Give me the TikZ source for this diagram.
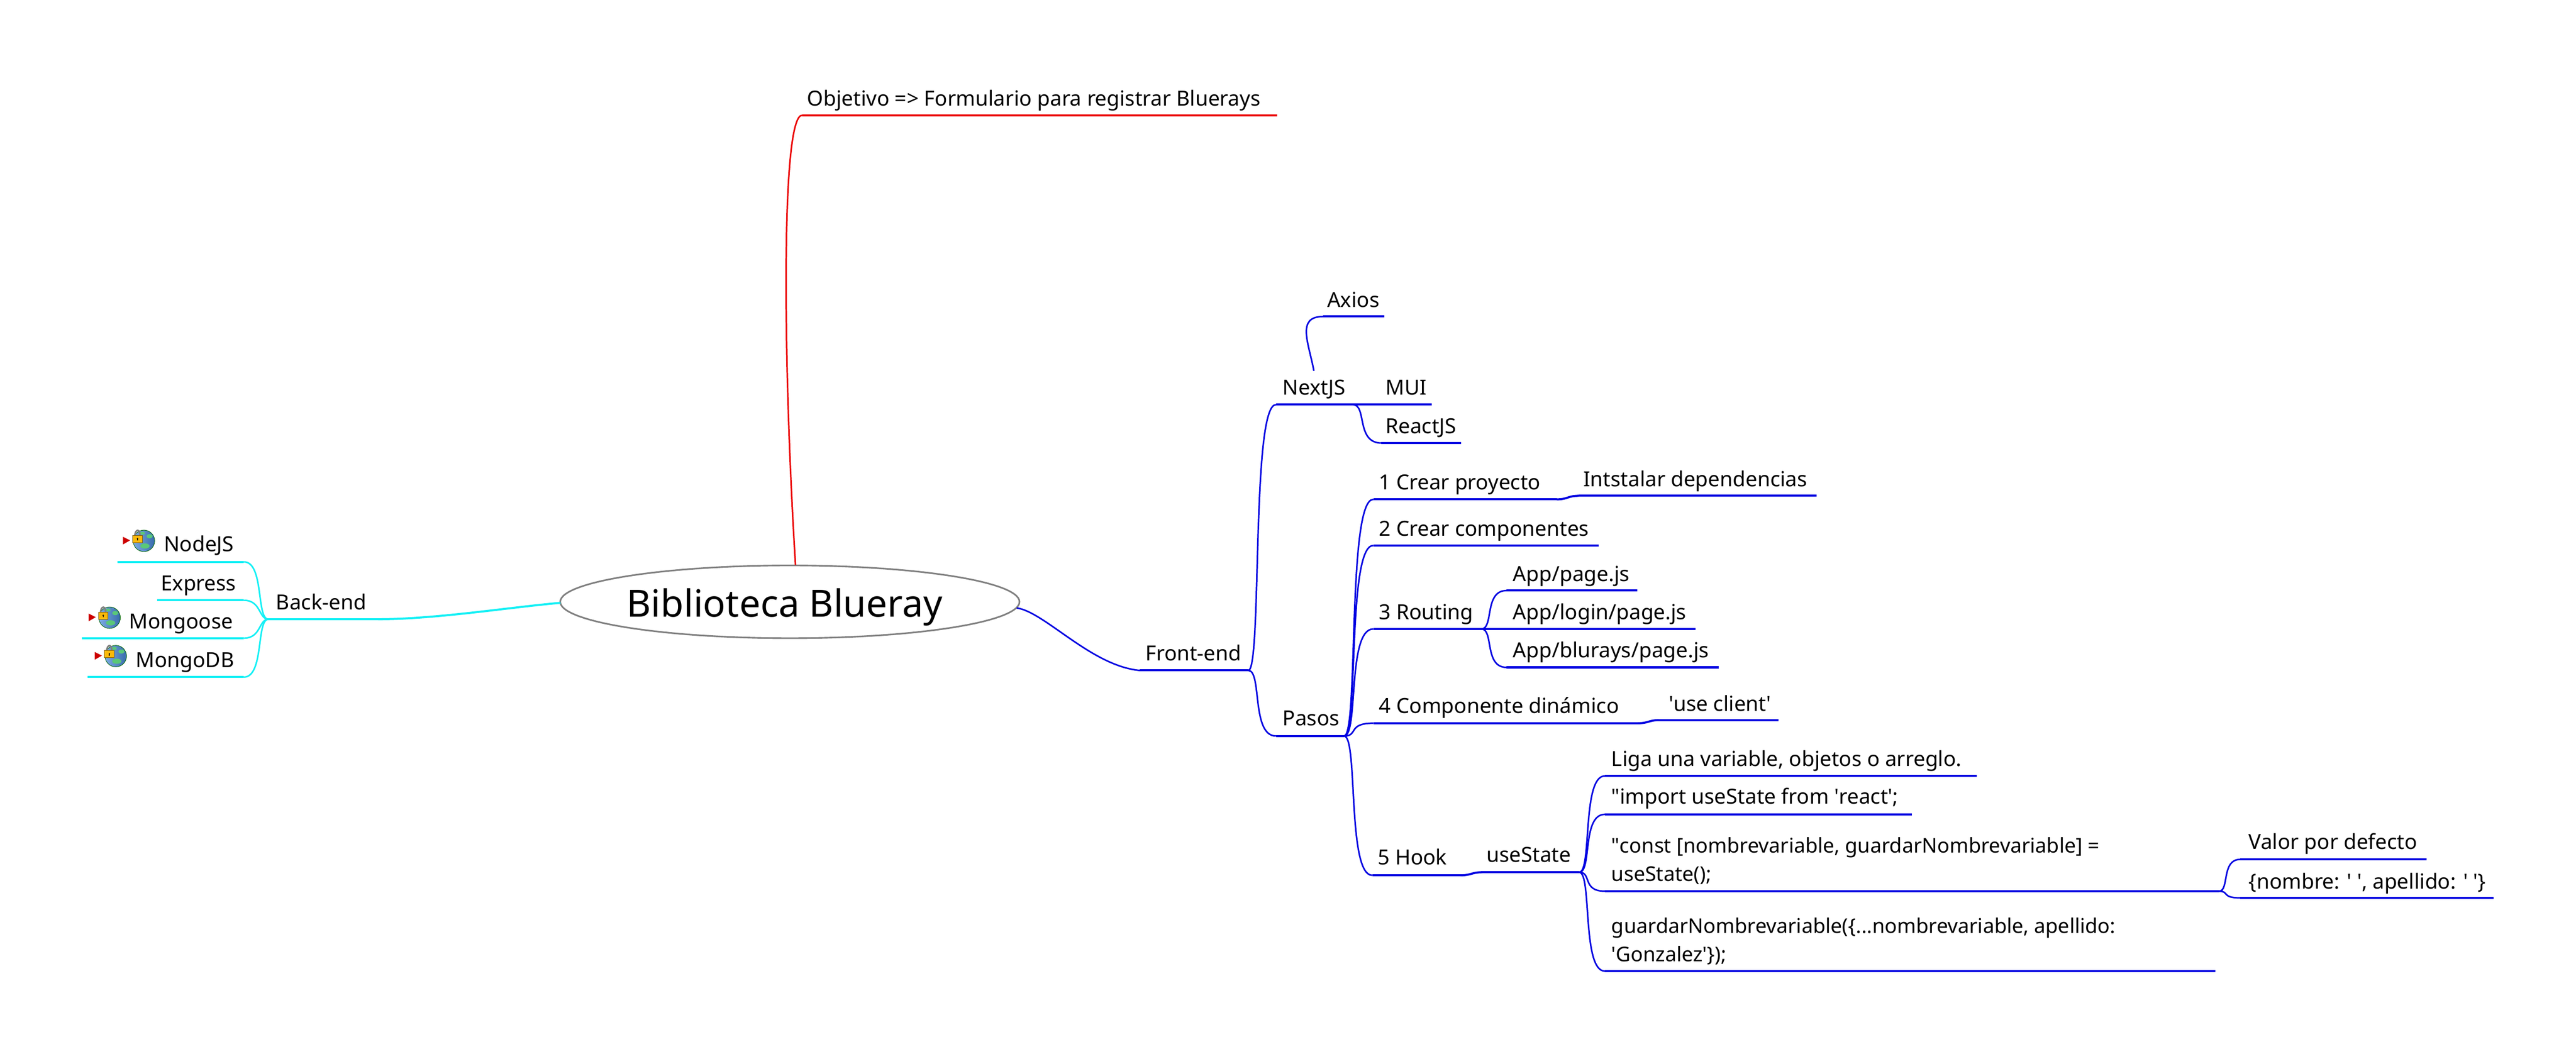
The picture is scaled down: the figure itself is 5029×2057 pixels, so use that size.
\documentclass[tikz,border=0pt]{standalone}
\usepackage{fontspec}
\setmainfont{Noto Sans}
\usetikzlibrary{calc,shapes.geometric}
\definecolor{mblue}{RGB}{0,0,225}
\definecolor{mcyan}{RGB}{20,240,245}
\definecolor{mred}{RGB}{235,0,0}
\definecolor{mgray}{RGB}{128,128,128}
\definecolor{lockY}{RGB}{250,185,10}
\definecolor{globeB}{RGB}{70,135,215}
\definecolor{globeG}{RGB}{90,200,120}
\definecolor{tagred}{RGB}{205,0,0}
\tikzset{
  lbl/.style={anchor=base west,inner sep=0pt,outer sep=0pt,text=black,
    font=\fontsize{11.55}{15.6}\selectfont,align=left},
  lbltight/.style={lbl,font=\fontsize{11.27}{15.6}\selectfont},
  root/.style={ellipse,draw=mgray,line width=0.9pt,fill=white,minimum width=8.96cm,minimum height=1.42cm,
    inner sep=0pt},
  hline/.style={line width=1.15pt,line cap=butt},
  curve/.style={line width=0.85pt},
  bluebr/.style={draw=mblue},
  cyanbr/.style={draw=mcyan},
  redbr/.style={draw=mred},
}
% branch from a to b: leaves a flat, arrives flat at b
\newcommand\brc[3]{\draw[#1,curve] (#2) .. controls ($(#2)!.5!(#3|-#2)$) and ($(#2|-#3)!.1!(#3)$) .. (#3);}
% short S step
\newcommand\brs[3]{\draw[#1,hline] (#2) .. controls ($(#2)!.5!(#3|-#2)$) and ($(#2|-#3)!.5!(#3)$) .. (#3);}
\newcommand\hl[3]{\draw[#1,hline] (#2) -- (#3);}
\newcommand\webicon[2]{%
  \begin{scope}[shift={(#1,#2)}]
    \path[left color=globeB!70!white,right color=globeB!80!black,draw=black!60!green,line width=0.25pt] (0,0) ellipse (21 and 21);
    \fill[globeG] (2,10) ellipse (9 and 5);
    \fill[globeG] (11,-9) ellipse (6 and 4);
    \fill[globeG] (-3,-15) ellipse (5 and 3);
    \draw[mgray,line width=0.9pt] (-18,-7) .. controls (-18,-25) and (-6,-25) .. (-8,-7);
    \fill[lockY,draw=black!50!lockY,line width=0.2pt] (-22,-11) rectangle (-3,3);
    \fill[black] (-12.5,-4.5) circle (1.5);
    \fill[black] (-13.3,-4.5) rectangle (-11.7,-1);
    \fill[tagred] (-41,-8) -- (-27,-1) -- (-41,7) -- cycle;
  \end{scope}}
\begin{document}
\begin{tikzpicture}[x=0.01cm,y=-0.01cm]
\path[use as bounding box,fill=white] (0,0) rectangle (5029,2057);

% root
\node[root] (root) at (1542,1175) {};
\node[anchor=base west,inner sep=0pt,font=\fontsize{20.8}{24}\selectfont] (rootlabel) at (1223,1204) {Biblioteca Blueray};

% coordinates of the branches
\coordinate (rT) at (1553,1103);
\coordinate (rL) at (1094,1177);
\coordinate (rR) at (1985,1187);
\coordinate (objA) at (1566,225);  \coordinate (objB) at (2493,225);

\coordinate (backA) at (738,1209); \coordinate (backJ) at (524,1209);
\coordinate (nodeA) at (476,1097); \coordinate (nodeB) at (229,1097);
\coordinate (expA) at (476,1172);  \coordinate (expB) at (307,1172);
\coordinate (mgsA) at (476,1246);  \coordinate (mgsB) at (160,1246);
\coordinate (mdbA) at (476,1322);  \coordinate (mdbB) at (171,1322);

\coordinate (frontA) at (2225,1309); \coordinate (frontJ) at (2437,1309);
\coordinate (nextA) at (2491,790); \coordinate (nextJ) at (2641,790); \coordinate (muiA) at (2697,790); \coordinate (muiB) at (2795,790);
\coordinate (reactA) at (2697,865); \coordinate (reactB) at (2852,865);
\coordinate (axStart) at (2565,724); \coordinate (axA) at (2583,618); \coordinate (axB) at (2703,618);
\coordinate (pasosA) at (2491,1437); \coordinate (pasosJ) at (2624,1437);
\coordinate (s1A) at (2681,975); \coordinate (s1B) at (3039,975);
\coordinate (depA) at (3082,968); \coordinate (depB) at (3546,968);
\coordinate (s2A) at (2681,1065); \coordinate (s2B) at (3121,1065);
\coordinate (s3A) at (2681,1228); \coordinate (s3B) at (2892,1228);
\coordinate (r1A) at (2941,1153); \coordinate (r1B) at (3196,1153);
\coordinate (r2A) at (2941,1228); \coordinate (r2B) at (3310,1228);
\coordinate (r3A) at (2941,1303); \coordinate (r3B) at (3355,1303);
\coordinate (s4A) at (2681,1412); \coordinate (s4B) at (3198,1412);
\coordinate (ucA) at (3239,1406); \coordinate (ucB) at (3472,1406);
\coordinate (s5A) at (2679,1709); \coordinate (s5B) at (2851,1709);
\coordinate (usA) at (2894,1703); \coordinate (usJ) at (3083,1703);
\coordinate (h1A) at (3133,1515); \coordinate (h1B) at (3859,1515);
\coordinate (h2A) at (3133,1590); \coordinate (h2B) at (3732,1590);
\coordinate (h3A) at (3133,1740); \coordinate (h3B) at (4332,1740);
\coordinate (h4A) at (3133,1896); \coordinate (h4B) at (4325,1896);
\coordinate (vdA) at (4373,1678); \coordinate (vdB) at (4737,1678);
\coordinate (noA) at (4373,1753); \coordinate (noB) at (4868,1753);

% red branch
\draw[redbr,curve] (rT) .. controls (1528,700) and (1525,225) .. (objA);
\hl{redbr}{objA}{objB}

% cyan branches
\draw[cyanbr,hline] (rL) .. controls (1000,1185) and (850,1209) .. (backA);
\hl{cyanbr}{backA}{backJ}
\draw[cyanbr,curve] (backJ) .. controls (500,1209) and (516,1097) .. (nodeA);
\draw[cyanbr,curve] (backJ) .. controls (505,1209) and (510,1172) .. (expA);
\draw[cyanbr,curve] (backJ) .. controls (505,1209) and (510,1246) .. (mgsA);
\draw[cyanbr,curve] (backJ) .. controls (500,1209) and (516,1322) .. (mdbA);
\hl{cyanbr}{nodeA}{nodeB}
\hl{cyanbr}{expA}{expB}
\hl{cyanbr}{mgsA}{mgsB}
\hl{cyanbr}{mdbA}{mdbB}

% blue branches
\draw[bluebr,curve] (rR) .. controls (2040,1195) and (2130,1300) .. (frontA);
\hl{bluebr}{frontA}{frontJ}
\brc{bluebr}{frontJ}{nextA}
\brc{bluebr}{frontJ}{pasosA}
\hl{bluebr}{nextA}{muiB}
\brc{bluebr}{nextJ}{reactA}
\hl{bluebr}{reactA}{reactB}
\draw[bluebr,curve] (axStart) .. controls (2555,670) and (2530,618) .. (axA);
\hl{bluebr}{axA}{axB}
\hl{bluebr}{pasosA}{pasosJ}
\brc{bluebr}{pasosJ}{s1A}
\brc{bluebr}{pasosJ}{s2A}
\brc{bluebr}{pasosJ}{s3A}
\brc{bluebr}{pasosJ}{s4A}
\brc{bluebr}{pasosJ}{s5A}
\hl{bluebr}{s1A}{s1B}
\brs{bluebr}{s1B}{depA}
\hl{bluebr}{depA}{depB}
\hl{bluebr}{s2A}{s2B}
\hl{bluebr}{s3A}{r2B}
\brc{bluebr}{s3B}{r1A}
\brc{bluebr}{s3B}{r3A}
\hl{bluebr}{r1A}{r1B}
\hl{bluebr}{r3A}{r3B}
\hl{bluebr}{s4A}{s4B}
\brs{bluebr}{s4B}{ucA}
\hl{bluebr}{ucA}{ucB}
\hl{bluebr}{s5A}{s5B}
\brs{bluebr}{s5B}{usA}
\hl{bluebr}{usA}{usJ}
\brc{bluebr}{usJ}{h1A}
\brc{bluebr}{usJ}{h2A}
\brc{bluebr}{usJ}{h3A}
\brc{bluebr}{usJ}{h4A}
\hl{bluebr}{h1A}{h1B}
\hl{bluebr}{h2A}{h2B}
\hl{bluebr}{h3A}{h3B}
\hl{bluebr}{h4A}{h4B}
\brc{bluebr}{h3B}{vdA}
\brc{bluebr}{h3B}{noA}
\hl{bluebr}{vdA}{vdB}
\hl{bluebr}{noA}{noB}

% icons
\webicon{281}{1056}
\webicon{214}{1206}
\webicon{226}{1281}

% labels
\node[lbl] (obj) at (1576,207) {Objetivo => Formulario para registrar Bluerays};
\node[lbl] (back) at (539,1190) {Back-end};
\node[lbl] (nodejs) at (320,1077) {NodeJS};
\node[lbl] (express) at (314,1153) {Express};
\node[lbl] (mongoose) at (252,1228) {Mongoose};
\node[lbl] (mongodb) at (265,1303) {MongoDB};
\node[lbl] (front) at (2236,1290) {Front-end};
\node[lbl] (axios) at (2591,600) {Axios};
\node[lbl] (nextjs) at (2504,771) {NextJS};
\node[lbl] (mui) at (2705,771) {MUI};
\node[lbl] (react) at (2705,846) {ReactJS};
\node[lbl] (pasos) at (2504,1417) {Pasos};
\node[lbl] (s1) at (2692,956) {1 Crear proyecto};
\node[lbl] (dep) at (3091,950) {Intstalar dependencias};
\node[lbl] (s2) at (2692,1047) {2 Crear componentes};
\node[lbl] (s3) at (2692,1209) {3 Routing};
\node[lbl] (r1) at (2954,1135) {App/page.js};
\node[lbl] (r2) at (2954,1209) {App/login/page.js};
\node[lbl] (r3) at (2954,1284) {App/blurays/page.js};
\node[lbl] (s4) at (2692,1393) {4 Componente dinámico};
\node[lbl] (uc) at (3258,1388) {\textquotesingle use client\textquotesingle};
\node[lbl] (s5) at (2690,1688) {5 Hook};
\node[lbl] (us) at (2902,1683) {useState};
\node[lbl] (h1) at (3146,1496) {Liga una variable, objetos o arreglo.};
\node[lbl] (h2) at (3146,1570) {\textquotedbl import useState from \textquotesingle react\textquotesingle;};
\node[lbltight] (h3) at (3146,1720) {\textquotedbl const [nombrevariable, guardarNombrevariable] =\\useState();};
\node[lbltight] (h4) at (3146,1877) {guardarNombrevariable(\{...nombrevariable, apellido:\\\textquotesingle Gonzalez\textquotesingle\});};
\node[lbl] (vd) at (4390,1658) {Valor por defecto};
\node[lbl] (no) at (4390,1735) {\{nombre: \textquotesingle\ \textquotesingle, apellido: \textquotesingle\ \textquotesingle\}};
\end{tikzpicture}
\end{document}
